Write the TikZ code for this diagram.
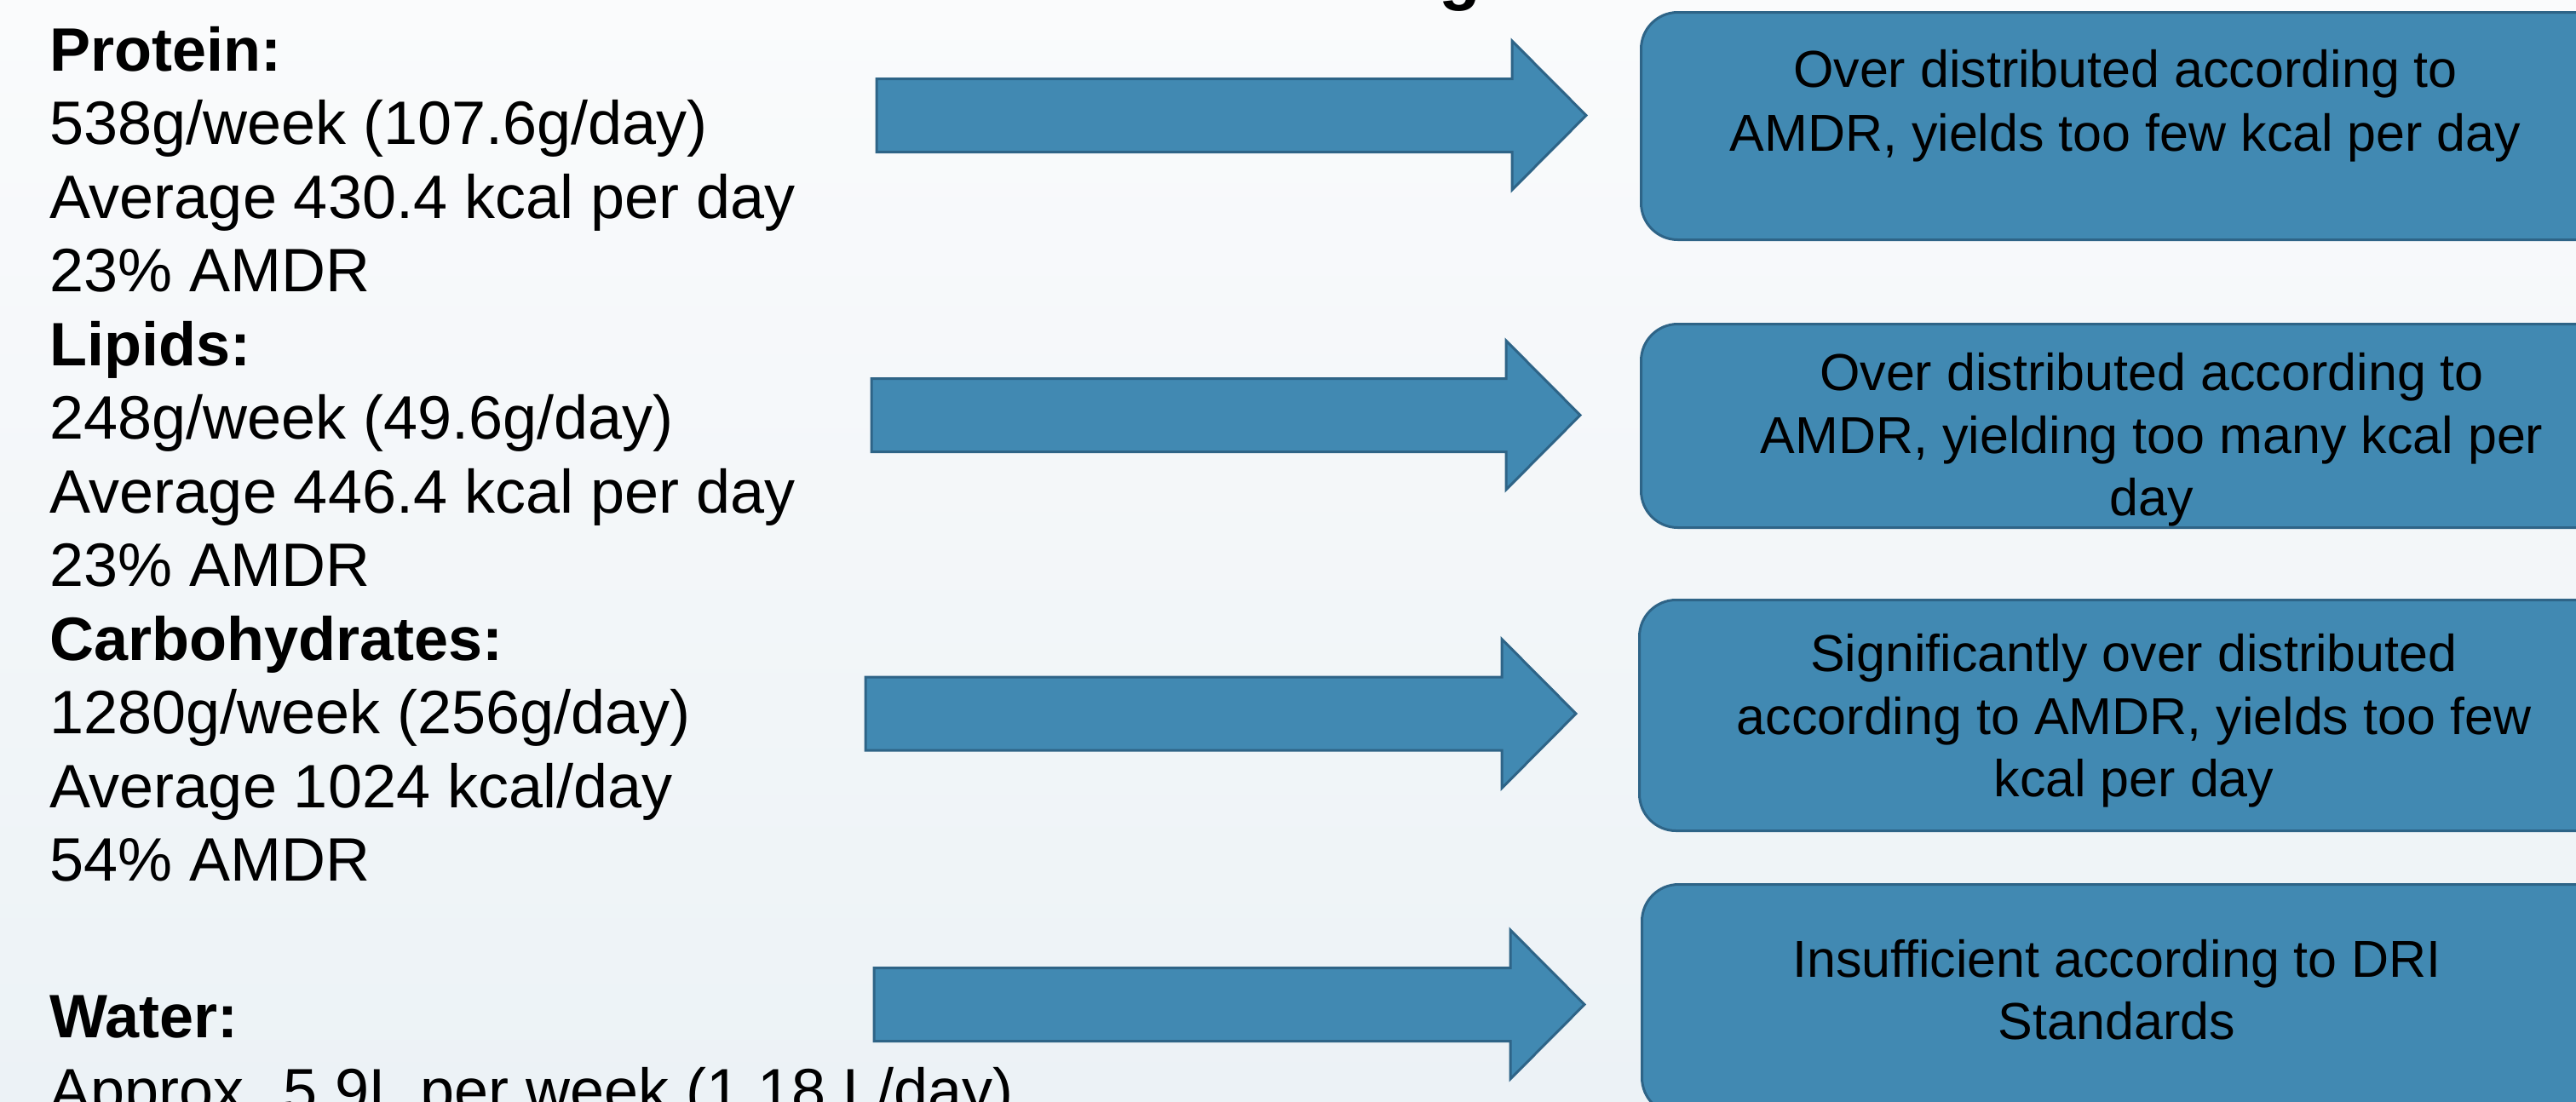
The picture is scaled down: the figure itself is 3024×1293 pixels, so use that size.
\documentclass[tikz,border=0pt]{standalone}
\usepackage{fontspec}
\setmainfont{Liberation Sans}
\definecolor{boxfill}{RGB}{65,137,178}
\definecolor{boxline}{RGB}{46,100,135}
\definecolor{bgtop}{RGB}{250,251,252}
\definecolor{bgbot}{RGB}{236,242,246}
\newcommand{\blockarr}[4]{% name, left x, centre y, tip x
  \path[blockarr] (#2,{#3-43}) -- ({#4-87},{#3-43}) -- ({#4-87},{#3-87.5}) -- (#4,#3) coordinate (#1tip)
    -- ({#4-87},{#3+87.5}) -- ({#4-87},{#3+43}) -- (#2,{#3+43}) -- cycle;
  \coordinate (#1tail) at (#2,#3);}
\begin{document}
\begin{tikzpicture}[x=1pt,y=-1pt,
  txt/.style={inner sep=0pt, anchor=base west, font=\fontsize{72}{86}\selectfont},
  hd/.style={inner sep=0pt, anchor=base west, font=\fontsize{72}{86}\selectfont\bfseries},
  btxt/.style={inner sep=0pt, anchor=base, font=\fontsize{61}{74}\selectfont},
  blockarr/.style={fill=boxfill, draw=boxline, line width=3pt, line join=miter},
  box/.style={rectangle, rounded corners=43pt, fill=boxfill, draw=boxline,
    line width=3pt, anchor=north west, inner sep=0pt, minimum width=1160pt}]
\useasboundingbox (0,0) rectangle (3024,1293);
\clip (0,0) rectangle (3024,1293);
\shade[top color=bgtop, bottom color=bgbot] (0,0) rectangle (3024,1293);

% cut-off title
\node[inner sep=0pt, anchor=base, font=\fontsize{80}{90}\selectfont\bfseries] (title) at (1714,-4) {g};

% left column
\node[hd]  (p0) at (58,83)   {Protein:};
\node[txt] (p1) at (58,169.5) {538g/week (107.6g/day)};
\node[txt] (p2) at (58,256)  {Average 430.4 kcal per day};
\node[txt] (p3) at (58,342.5) {23\% AMDR};
\node[hd]  (l0) at (58,429)  {Lipids:};
\node[txt] (l1) at (58,515.5) {248g/week (49.6g/day)};
\node[txt] (l2) at (58,602)  {Average 446.4 kcal per day};
\node[txt] (l3) at (58,688.5) {23\% AMDR};
\node[hd]  (c0) at (58,775)  {Carbohydrates:};
\node[txt] (c1) at (58,861.5) {1280g/week (256g/day)};
\node[txt] (c2) at (58,948)  {Average 1024 kcal/day};
\node[txt] (c3) at (58,1034.5) {54\% AMDR};
\node[hd]  (w0) at (58,1218) {Water:};
\node[txt] (w1) at (58,1305) {Approx. 5.9L per week (1.18 L/day)};

% block arrows
\blockarr{a1}{1029}{135.5}{1862}
\blockarr{a2}{1023}{487.5}{1855}
\blockarr{a3}{1016}{838}{1850}
\blockarr{a4}{1026}{1179.5}{1860}

% result boxes
\node[box, minimum height=267pt] (b1) at (1925,13) {};
\node[box, minimum height=239pt] (b2) at (1925,379) {};
\node[box, minimum height=271pt] (b3) at (1923,703) {};
\node[box, minimum height=270pt] (b4) at (1926,1037) {};

\node[btxt] (b1a) at (2495,102) {Over distributed according to};
\node[btxt] (b1b) at (2495,177) {AMDR, yields too few kcal per day};
\node[btxt] (b2a) at (2526,458) {Over distributed according to};
\node[btxt] (b2b) at (2526,532) {AMDR, yielding too many kcal per};
\node[btxt] (b2c) at (2526,605) {day};
\node[btxt] (b3a) at (2505,788) {Significantly over distributed};
\node[btxt] (b3b) at (2505,862) {according to AMDR, yields too few};
\node[btxt] (b3c) at (2505,935) {kcal per day};
\node[btxt] (b4a) at (2485,1147) {Insufficient according to DRI};
\node[btxt] (b4b) at (2485,1220) {Standards};
\end{tikzpicture}
\end{document}
